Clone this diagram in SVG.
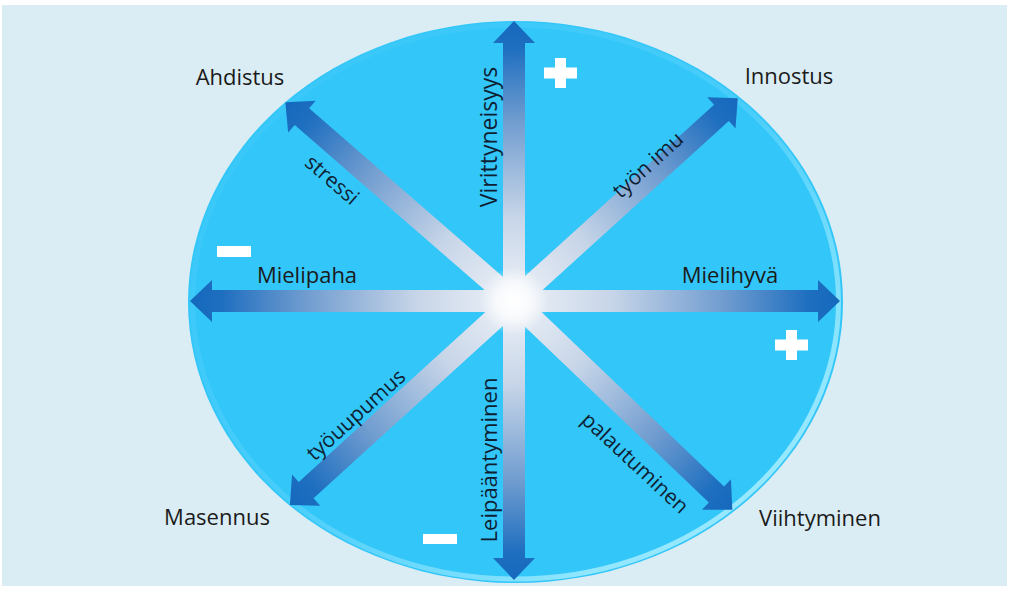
<svg xmlns="http://www.w3.org/2000/svg" width="1009" height="589" viewBox="0 0 1009 589">
<defs>
<linearGradient id="ag" x1="0" y1="0" x2="1" y2="0">
<stop offset="0" stop-color="#eef2f8"/>
<stop offset="0.3" stop-color="#c7d5e8"/>
<stop offset="0.65" stop-color="#6e9bcf"/>
<stop offset="0.9" stop-color="#1f6fc0"/>
<stop offset="1" stop-color="#1468bd"/>
</linearGradient>
<radialGradient id="glow" cx="0.5" cy="0.5" r="0.5">
<stop offset="0" stop-color="#ffffff" stop-opacity="1"/>
<stop offset="0.5" stop-color="#ffffff" stop-opacity="0.7"/>
<stop offset="1" stop-color="#ffffff" stop-opacity="0"/>
</radialGradient>
<linearGradient id="rim" x1="0" y1="0" x2="1" y2="1">
<stop offset="0" stop-color="#9be9ff" stop-opacity="0"/>
<stop offset="0.5" stop-color="#9be9ff" stop-opacity="0.2"/>
<stop offset="0.8" stop-color="#a8eeff" stop-opacity="0.8"/>
<stop offset="1" stop-color="#a8eeff" stop-opacity="1"/>
</linearGradient>
<style>
.lbl{font-family:"Open Sans","Liberation Sans",sans-serif;font-size:22px;fill:#1b1b1b}
.in{font-family:"Open Sans","Liberation Sans",sans-serif;font-size:22px;fill:#0f1f33;text-anchor:middle}
.sg{fill:#ffffff}
</style>
</defs>
<rect x="0" y="0" width="1009" height="589" fill="#ffffff"/>
<rect x="2" y="5" width="1005" height="581" fill="#daedf4"/>
<g id="disc">
<ellipse cx="515.5" cy="302" rx="327.5" ry="281" fill="#33c6f9"/>
<ellipse cx="515.5" cy="302" rx="323" ry="277" fill="none" stroke="url(#rim)" stroke-width="5"/>
</g>
<g id="connectors">
<path id="a-right" transform="translate(514,301) rotate(0)" d="M0,-11 H304 V-21 L326,0 L304,21 V11 H0 Z" fill="url(#ag)"/>
<path id="a-left" transform="translate(514,301) rotate(180)" d="M0,-11 H302 V-21 L324,0 L302,21 V11 H0 Z" fill="url(#ag)"/>
<path id="a-up" transform="translate(514,301) rotate(-90)" d="M0,-11 H258 V-21 L280,0 L258,21 V11 H0 Z" fill="url(#ag)"/>
<path id="a-down" transform="translate(514,301) rotate(90)" d="M0,-11 H257 V-21 L279,0 L257,21 V11 H0 Z" fill="url(#ag)"/>
<path id="a-nw" transform="translate(514,301) rotate(-139)" d="M0,-11 H281 V-21 L303,0 L281,21 V11 H0 Z" fill="url(#ag)"/>
<path id="a-ne" transform="translate(514,301) rotate(-42.2)" d="M0,-11 H280 V-21 L302,0 L280,21 V11 H0 Z" fill="url(#ag)"/>
<path id="a-sw" transform="translate(514,301) rotate(137.7)" d="M0,-11 H281 V-21 L303,0 L281,21 V11 H0 Z" fill="url(#ag)"/>
<path id="a-se" transform="translate(514,301) rotate(43.7)" d="M0,-11 H280 V-21 L302,0 L280,21 V11 H0 Z" fill="url(#ag)"/>
<circle cx="514" cy="301" r="34" fill="url(#glow)"/>
</g>
<g id="n-ahdistus"><text class="lbl" x="240" y="85" text-anchor="middle">Ahdistus</text></g>
<g id="n-innostus"><text class="lbl" x="789" y="84" text-anchor="middle">Innostus</text></g>
<g id="n-mielipaha"><text class="lbl" x="307" y="283" text-anchor="middle">Mielipaha</text></g>
<g id="n-mielihyva"><text class="lbl" x="730" y="283" text-anchor="middle">Mielihyvä</text></g>
<g id="n-masennus"><text class="lbl" x="217" y="525" text-anchor="middle">Masennus</text></g>
<g id="n-viihtyminen"><text class="lbl" x="820" y="526" text-anchor="middle">Viihtyminen</text></g>
<g id="n-virittyneisyys"><text class="in" style="font-size:23px" transform="translate(497,137) rotate(-90)" x="0" y="0">Virittyneisyys</text></g>
<g id="n-leipaantyminen"><text class="in" transform="translate(497,460) rotate(-90)" x="0" y="0">Leipääntyminen</text></g>
<g id="n-stressi"><text class="in" style="font-size:21px" transform="translate(332,180) rotate(41)" x="0" y="7">stressi</text></g>
<g id="n-tyonimu"><text class="in" style="font-size:21px" transform="translate(648,165) rotate(-42)" x="0" y="7">työn imu</text></g>
<g id="n-tyouupumus"><text class="in" style="font-size:21px" transform="translate(356,415) rotate(-42)" x="0" y="7">työuupumus</text></g>
<g id="n-palautuminen"><text class="in" style="font-size:21px" transform="translate(635,463) rotate(43)" x="0" y="7">palautuminen</text></g>
<g id="signs">
<rect class="sg" x="555" y="58" width="11" height="30"/>
<rect class="sg" x="544" y="67.5" width="33" height="11"/>
<rect class="sg" x="786" y="330" width="11" height="30"/>
<rect class="sg" x="775" y="339.5" width="33" height="11"/>
<rect class="sg" x="217" y="246" width="34" height="11"/>
<rect class="sg" x="423" y="534" width="34" height="10"/>
</g>
</svg>
